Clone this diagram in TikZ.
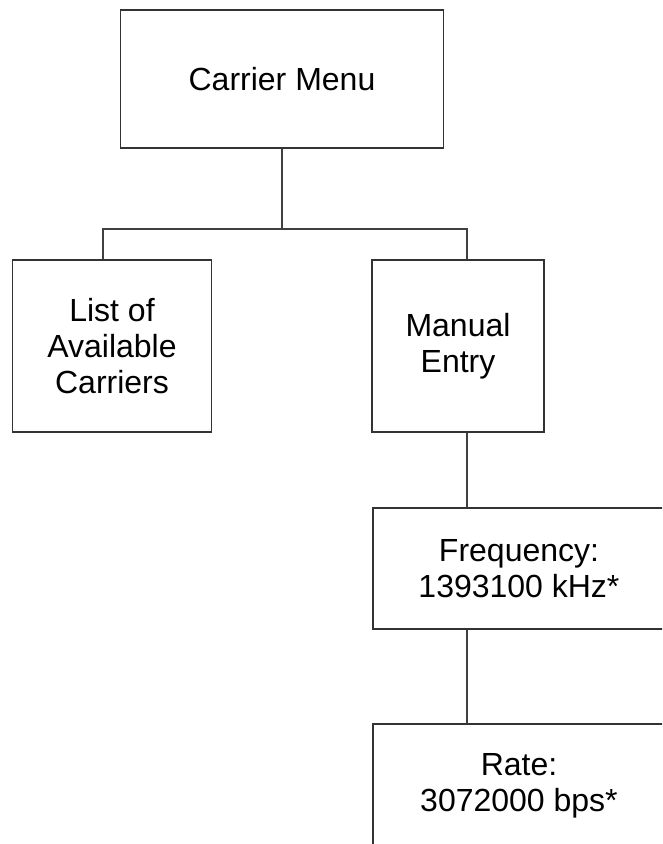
\documentclass[tikz,border=0pt]{standalone}
\usepackage{fontspec}
\setmainfont{Liberation Sans}
\usepackage{tikz}

\tikzset{
  menubox/.style={draw=black!80, line width=1.2pt, inner sep=0pt, align=center,
    font=\fontsize{32}{36}\selectfont},
  link/.style={draw=black!75, line width=1.1pt}
}

\begin{document}
\begin{tikzpicture}[x=1pt,y=-1pt]

\useasboundingbox (0,0) rectangle (662,844);
\clip (0,0) rectangle (662,844);

% Boxes
\node[menubox, minimum width=323, minimum height=138] (carrier) at (282,79) {Carrier Menu};
\node[menubox, minimum width=199, minimum height=172] (list) at (112,346) {List of\\Available\\Carriers};
\node[menubox, minimum width=172, minimum height=172] (manual) at (458,346) {Manual\\Entry};
\node[menubox, minimum width=292, minimum height=121] (freq) at (519,568.5) {Frequency:\\1393100 kHz*};
\node[menubox, minimum width=292, minimum height=124] (rate) at (519,786) {Rate:\\3072000 bps*};

% Branch points
\coordinate (hubL) at (103,229);
\coordinate (hubR) at (467,229);

% Lines
\draw[link] (carrier.south) -- (carrier.south |- hubL);
\draw[link] (hubL |- list.north) -- (hubL) -- (hubR) -- (hubR |- manual.north);
\draw[link] (hubR |- manual.south) -- (hubR |- freq.north);
\draw[link] (hubR |- freq.south) -- (hubR |- rate.north);

\end{tikzpicture}
\end{document}
